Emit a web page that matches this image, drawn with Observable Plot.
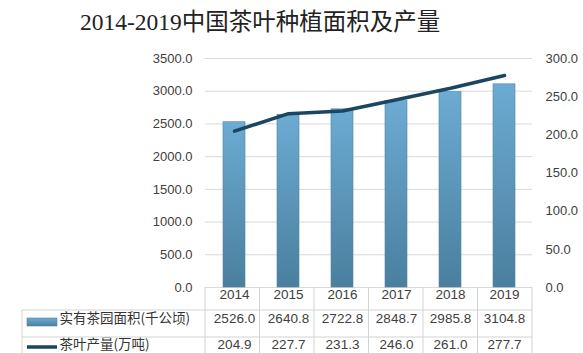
<!DOCTYPE html>
<html>
<head>
<meta charset="utf-8">
<script src="https://cdn.jsdelivr.net/npm/d3@7"></script>
<script src="https://cdn.jsdelivr.net/npm/@observablehq/plot@0.6"></script>
<style>
  body { margin: 0; background: white; width: 583px; height: 353px; overflow: hidden; }
  #title { height: 40px; box-sizing: border-box; padding-left: 80px; padding-top: 7px;
    font-family: "Liberation Serif", "Noto Sans CJK SC", serif; font-size: 23.5px; line-height: 30px;
    color: #222; white-space: nowrap; }
</style>
</head>
<body>
<div id="title">2014-2019中国茶叶种植面积及产量</div>
<div id="chart"></div>
<script>
const years = ["2014", "2015", "2016", "2017", "2018", "2019"];
const area = [2526.0, 2640.8, 2722.8, 2848.7, 2985.8, 3104.8];
const production = [204.9, 227.7, 231.3, 246.0, 261.0, 277.7];
const leftTicks = [0, 500, 1000, 1500, 2000, 2500, 3000, 3500];
const rightTicks = [0, 50, 100, 150, 200, 250, 300];
const seriesLabels = ["实有茶园面积(千公顷)", "茶叶产量(万吨)"];

const k = 3500 / 300;
const data = years.map((year, i) => ({year, area: area[i], production: production[i]}));

const cjk = "'Noto Sans CJK SC', sans-serif";

const plot = Plot.plot({
  width: 583,
  height: 313,
  marginTop: 18,
  marginBottom: 66,
  marginLeft: 205,
  marginRight: 51,
  x: {domain: years, padding: 0, axis: null},
  y: {domain: [0, 3500], axis: null},
  style: {fontFamily: "'Liberation Sans', sans-serif", fontSize: "13px", color: "#404040", background: "white", overflow: "visible"},
  marks: [
    Plot.gridY(leftTicks, {stroke: "#d9d9d9", strokeOpacity: 1}),
    Plot.barY(data, {x: "year", y: "area", fill: "url(#barGrad)", insetLeft: 16, insetRight: 16, stroke: "#4d84a3", strokeWidth: 0.6}),
    Plot.line(data, {x: "year", y: d => d.production * k, stroke: "#1a4661", strokeWidth: 3.5}),
    Plot.axisY({ticks: leftTicks, anchor: "left", label: null, tickSize: 0, tickPadding: 13, tickFormat: d => d.toFixed(1), fill: "#404040"}),
    Plot.axisY({ticks: rightTicks.map(v => v * k), anchor: "right", label: null, tickSize: 0, tickPadding: 13, tickFormat: d => (d / k).toFixed(1), fill: "#404040"}),
    Plot.text(data, {x: "year", text: "year", frameAnchor: "bottom", dy: 11, fill: "#404040", fontSize: 13.5}),
    Plot.text(data, {x: "year", text: d => d.area.toFixed(1), frameAnchor: "bottom", dy: 35, fill: "#404040", fontSize: 13.5}),
    Plot.text(data, {x: "year", text: d => d.production.toFixed(1), frameAnchor: "bottom", dy: 61, fill: "#404040", fontSize: 13.5}),
    Plot.text([seriesLabels[0]], {text: d => d, frameAnchor: "bottom-left", textAnchor: "start", dx: -146, dy: 35, fontFamily: cjk, fontSize: 13.5, fill: "#333"}),
    Plot.text([seriesLabels[1]], {text: d => d, frameAnchor: "bottom-left", textAnchor: "start", dx: -146, dy: 61, fontFamily: cjk, fontSize: 13.5, fill: "#333"})
  ]
});

document.getElementById("chart").appendChild(plot);

// decorations: gradient, table grid, legend swatches
const svg = d3.select(plot);
const defs = svg.insert("defs", ":first-child");
const grad = defs.append("linearGradient").attr("id", "barGrad").attr("x1", 0).attr("y1", 0).attr("x2", 0).attr("y2", 1);
grad.append("stop").attr("offset", "0%").attr("stop-color", "#6cabd3");
grad.append("stop").attr("offset", "100%").attr("stop-color", "#4a7f9e");

const xs = plot.scale("x");
const [r0, r1] = xs.range;
const step = (r1 - r0) / xs.domain.length;
const bottom = 313 - 66;
const g = svg.append("g").attr("stroke", "#d3d3d3").attr("stroke-width", 1).attr("fill", "none");
for (let i = 0; i <= xs.domain.length; i++) {
  const xp = r0 + i * step;
  g.append("line").attr("x1", xp).attr("x2", xp).attr("y1", bottom).attr("y2", 313);
}
[270, 297].forEach(yp => g.append("line").attr("x1", 22).attr("x2", r1).attr("y1", yp).attr("y2", yp));
g.append("line").attr("x1", 22).attr("x2", 22).attr("y1", 270).attr("y2", 313);

svg.append("rect").attr("x", 27).attr("y", 278).attr("width", 30).attr("height", 8)
  .attr("fill", "url(#barGrad)").attr("stroke", "#4d84a3").attr("stroke-width", 0.6);
svg.append("line").attr("x1", 27).attr("x2", 57).attr("y1", 307).attr("y2", 307)
  .attr("stroke", "#1a4661").attr("stroke-width", 3.5);
</script>
</body>
</html>
